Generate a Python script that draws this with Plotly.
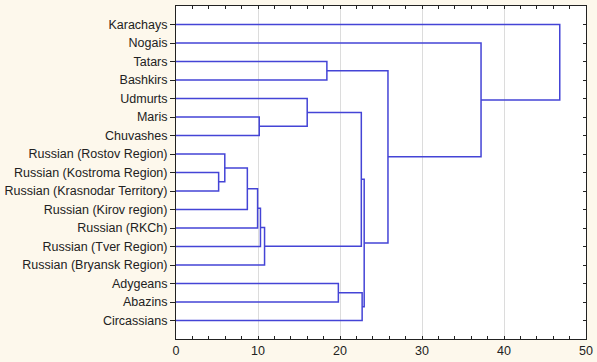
import plotly.graph_objects as go

# Leaves (top to bottom)
labels = ["Karachays", "Nogais", "Tatars", "Bashkirs", "Udmurts", "Maris", "Chuvashes",
          "Russian (Rostov Region)", "Russian (Kostroma Region)", "Russian (Krasnodar Territory)",
          "Russian (Kirov region)", "Russian (RKCh)", "Russian (Tver Region)",
          "Russian (Bryansk Region)", "Adygeans", "Abazins", "Circassians"]

# Linkage: child ids (0..16 leaves, 17+ merged clusters) and joining distance
merge_a = [8, 7, 18, 19, 5, 20, 22, 4, 2, 14, 24, 26, 27, 25, 1, 0]
merge_b = [9, 17, 10, 11, 6, 12, 13, 21, 3, 15, 23, 16, 28, 29, 30, 31]
merge_h = [5.2, 5.95, 8.7, 9.95, 10.15, 10.3, 10.8, 16.0, 18.4, 19.8, 22.6, 22.7, 22.95, 25.85, 37.2, 46.8]

x_ticks = [0, 10, 20, 30, 40, 50]

n = len(labels)
pos = {i: float(i) for i in range(n)}
hgt = {i: 0.0 for i in range(n)}
xs, ys = [], []
for k, (a, b, h) in enumerate(zip(merge_a, merge_b, merge_h)):
    xs += [hgt[a], h, h, hgt[b], None]
    ys += [pos[a], pos[a], pos[b], pos[b], None]
    cid = n + k
    pos[cid] = (pos[a] + pos[b]) / 2
    hgt[cid] = h

line_color = "#4444d6"
fig = go.Figure()
fig.add_trace(go.Scatter(x=xs, y=ys, mode="lines",
                         line=dict(color=line_color, width=1.5),
                         hoverinfo="skip", showlegend=False))
fig.add_trace(go.Scatter(x=[None], y=[None], yaxis="y2", showlegend=False, hoverinfo="skip"))

font = dict(family="Liberation Sans, Arial, sans-serif", size=12.5, color="#222222")
fig.update_layout(
    width=597, height=362,
    margin=dict(l=175.5, r=11, t=6, b=23),
    paper_bgcolor="#fdf8ec", plot_bgcolor="#ffffff",
    font=font,
    xaxis=dict(range=[0, 50], tickvals=x_ticks, ticktext=[str(v) for v in x_ticks],
               automargin=False,
               showgrid=True, gridcolor="#dcdcdc", gridwidth=1, zeroline=False,
               showline=True, linecolor="#222222", linewidth=1, mirror="ticks",
               ticks="inside", ticklen=3, tickcolor="#222222",
               minor=dict(ticks="inside", dtick=2, ticklen=3, tickcolor="#222222", showgrid=False)),
    yaxis=dict(range=[n, -1], tickvals=list(range(n)), ticktext=labels,
               automargin=False,
               showgrid=False, zeroline=False, showline=True, linecolor="#222222",
               linewidth=1, mirror=True, ticks="outside", ticklen=5, tickcolor="#222222"),
    yaxis2=dict(range=[n, -1], overlaying="y", side="right", tickvals=list(range(n)),
                automargin=False,
                showticklabels=False, showgrid=False, zeroline=False, showline=False,
                ticks="inside", ticklen=3, tickcolor="#222222"),
)
fig.write_html("out.html", config={"displayModeBar": False},
               post_script="document.body.style.margin='0';document.body.style.background='#fdf8ec';")
